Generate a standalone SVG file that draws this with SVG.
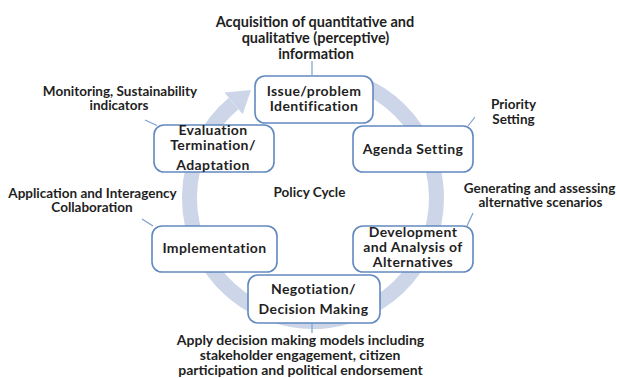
<svg xmlns="http://www.w3.org/2000/svg" width="617" height="378" viewBox="0 0 617 378">
<style>
.box{fill:#ffffff;stroke:#6189bf;stroke-width:1.6}
.t{font-family:Lato,"Liberation Sans",sans-serif;font-weight:700;fill:#1f1f1f;text-anchor:middle}
.bt{font-size:14px;letter-spacing:0.4px}
.at{font-size:13.5px}
.lead{stroke:#7d9fcd;stroke-width:1.2;fill:none}
</style>
<rect width="617" height="378" fill="#ffffff"/>
<g id="cycle-arrow">
<path d="M369.1,88 A123.5,123.5 0 1 1 233.6,103.4" fill="none" stroke="#cdd6e8" stroke-width="15"/>
<polygon points="224.5,92.5 242.7,114.3 251,90" fill="#cdd6e8"/>
</g>
<g id="connectors">
<line class="lead" x1="312" y1="61" x2="312" y2="75"/>
<line class="lead" x1="475" y1="117" x2="468" y2="126"/>
<line class="lead" x1="473" y1="213" x2="467" y2="226"/>
<line class="lead" x1="145" y1="120" x2="157" y2="125.5"/>
<line class="lead" x1="142" y1="219" x2="153" y2="226"/>
<line class="lead" x1="312" y1="323" x2="312" y2="333"/>
</g>
<g id="issue">
<rect class="box" x="255" y="76" width="118" height="47" rx="10"/>
<text class="t bt" x="314" y="96">Issue/problem</text>
<text class="t bt" x="314" y="110.5">Identification</text>
</g>
<g id="agenda">
<rect class="box" x="353" y="126" width="120" height="46" rx="10"/>
<text class="t bt" x="413" y="153.5">Agenda Setting</text>
</g>
<g id="development">
<rect class="box" x="353" y="226" width="120" height="46" rx="10"/>
<text class="t bt" x="413" y="236.5">Development</text>
<text class="t bt" x="413" y="251.5">and Analysis of</text>
<text class="t bt" x="413" y="266.5">Alternatives</text>
</g>
<g id="negotiation">
<rect class="box" x="248" y="275" width="132" height="48" rx="10"/>
<text class="t bt" x="313.5" y="293.5">Negotiation/</text>
<text class="t bt" x="313.5" y="313.5">Decision Making</text>
</g>
<g id="implementation">
<rect class="box" x="152" y="226" width="125" height="46" rx="10"/>
<text class="t bt" x="214.5" y="253">Implementation</text>
</g>
<g id="evaluation">
<rect class="box" x="154" y="125" width="120" height="47" rx="10"/>
<text class="t bt" x="213" y="135">Evaluation</text>
<text class="t bt" x="213" y="149.5">Termination/</text>
<text class="t bt" x="213" y="170">Adaptation</text>
</g>
<g id="labels">
<text class="t" font-size="14.5" x="315" y="26.5">Acquisition of quantitative and</text>
<text class="t" font-size="14.5" x="315.5" y="42.5">qualitative (perceptive)</text>
<text class="t" font-size="14.5" x="316" y="58.5">information</text>
<text class="t at" x="513.5" y="108.5">Priority</text>
<text class="t at" x="513.5" y="123.5">Setting</text>
<text class="t at" x="539.5" y="193">Generating and assessing</text>
<text class="t at" x="540.5" y="207">alternative scenarios</text>
<text class="t at" x="120" y="96">Monitoring, Sustainability</text>
<text class="t at" x="119" y="110">indicators</text>
<text class="t at" x="92.5" y="197.5">Application and Interagency</text>
<text class="t at" x="92" y="211.5">Collaboration</text>
<text class="t at" x="309.5" y="196.5">Policy Cycle</text>
<text class="t" font-size="14" x="300.5" y="345">Apply decision making models including</text>
<text class="t" font-size="14" x="300" y="360">stakeholder engagement, citizen</text>
<text class="t" font-size="14" x="300.5" y="375">participation and political endorsement</text>
</g>
</svg>
